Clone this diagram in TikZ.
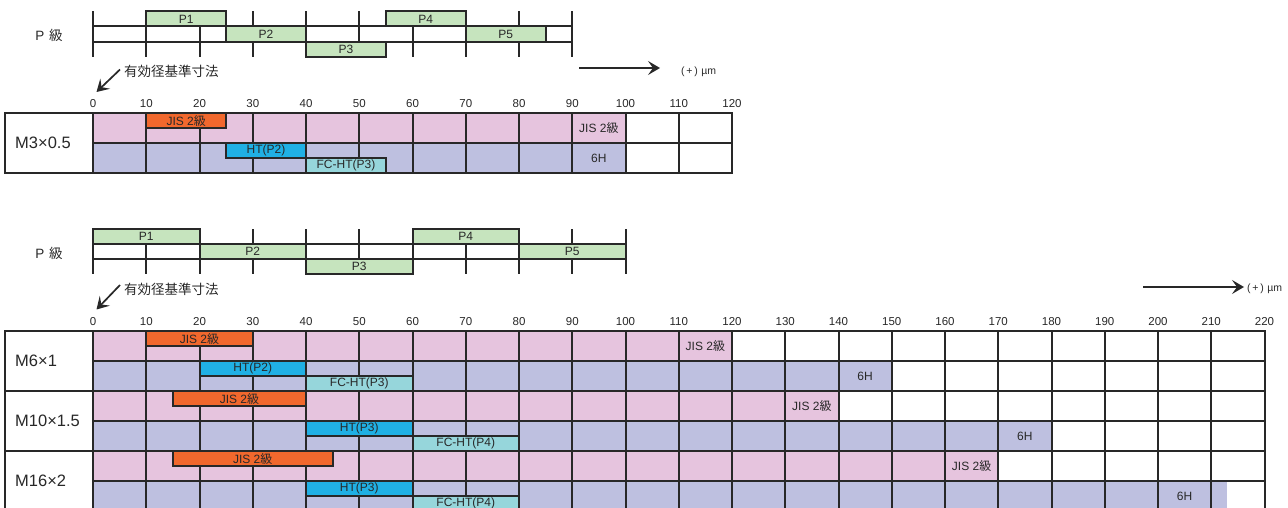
\documentclass[tikz,border=0pt]{standalone}
\usepackage{fontspec}
\setmainfont{Liberation Sans}
\newfontfamily\jp{Noto Sans CJK JP}
\usetikzlibrary{arrows.meta}
\definecolor{pinkc}{RGB}{230,196,222}
\definecolor{bluec}{RGB}{190,192,224}
\definecolor{orangec}{RGB}{241,104,45}
\definecolor{cyanc}{RGB}{32,176,228}
\definecolor{fcc}{RGB}{150,214,219}
\definecolor{greenc}{RGB}{198,228,190}
\definecolor{linec}{RGB}{40,40,40}
\newcommand\bx[7]{% style, x0, x1, y0, y1, name, text
  \draw[#1] (#2,#4) rectangle (#3,#5);
  \node[lbl] (#6) at ({(#2+#3)/2},{(#4+#5)/2}) {#7};
}
\begin{document}
\begin{tikzpicture}[x=1pt,y=-1pt,
  grid/.style={draw=linec, line width=2pt},
  lbl/.style={inner sep=0pt, text=linec, font=\fontsize{12}{14}\selectfont},
  num/.style={inner sep=0pt, text=linec, font=\fontsize{11.5}{13}\selectfont},
  rowlbl/.style={inner sep=0pt, anchor=west, text=linec, font=\fontsize{16.5}{19}\selectfont},
  plbl/.style={inner sep=0pt, text=linec, font=\fontsize{13.5}{15}\selectfont},
  unit/.style={inner sep=0pt, anchor=west, text=linec, font=\fontsize{10.5}{12}\selectfont},
  arr/.style={draw=linec, line width=1.7pt, -{Stealth[length=12pt,width=14pt,inset=5pt]}},
  pgreen/.style={grid, fill=greenc},
  porange/.style={grid, fill=orangec},
  pcyan/.style={grid, fill=cyanc},
  pfc/.style={grid, fill=fcc}]
\useasboundingbox (0,0) rectangle (1288,508);
\clip (0,0) rectangle (1288,508);

% ---------------- top part ----------------
\node[plbl] (plab1) at (49,35) {P\,\,{\jp 級}};
\begin{scope}[xshift=93pt, xscale=5.325]
  \foreach \v in {0,10,...,90} \draw[grid] (\v,11.3) -- (\v,56.9);
  \draw[grid] (0,26.5) -- (90,26.5) (0,41.7) -- (90,41.7);
  \bx{pgreen}{10}{25}{11.3}{26.5}{tp1}{P1}
  \bx{pgreen}{25}{40}{26.5}{41.7}{tp2}{P2}
  \bx{pgreen}{40}{55}{41.7}{56.9}{tp3}{P3}
  \bx{pgreen}{55}{70}{11.3}{26.5}{tp4}{P4}
  \bx{pgreen}{70}{85}{26.5}{41.7}{tp5}{P5}
\end{scope}

\node[plbl, anchor=west] (ref1) at (124,71) {\jp 有効径基準寸法};
\coordinate (ref1a) at (120,69.5);
\coordinate (ref1b) at (96.5,92);
\draw[arr] (ref1a) -- (ref1b);

\coordinate (ar1a) at (579,68);
\coordinate (ar1b) at (660,68);
\draw[arr] (ar1a) -- (ar1b);
\node[unit] (u1) at (681,72) {(\,+\,)\,\,µm};

\begin{scope}[xshift=93pt, xscale=5.325]
  \foreach \v in {0,10,...,120} \node[num] (ta\v) at (\v,104) {\v};
  \fill[pinkc] (0,113) rectangle (100,143);
  \fill[bluec] (0,143) rectangle (100,173);
  \foreach \v in {0,10,...,120} \draw[grid] (\v,113) -- (\v,173);
  \draw[grid] (0,143) -- (120,143);
  \bx{porange}{10}{25}{113}{128}{tj}{JIS 2{\jp 級}}
  \bx{pcyan}{25}{40}{143}{158}{tht}{HT(P2)}
  \bx{pfc}{40}{55}{158}{173}{tfc}{FC-HT(P3)}
  \node[lbl] (tjl) at (95,128) {JIS 2{\jp 級}};
  \node[lbl] (t6h) at (95,158) {6H};
\end{scope}
\draw[grid] (5,113) rectangle (732,173);
\node[rowlbl] (m3) at (15,143) {M3×0.5};

% ---------------- bottom part ----------------
\node[plbl] (plab2) at (49,253) {P\,\,{\jp 級}};
\begin{scope}[xshift=93pt, xscale=5.325]
  \foreach \v in {0,10,...,100} \draw[grid] (\v,229.3) -- (\v,274.3);
  \draw[grid] (0,244.3) -- (100,244.3) (0,259.3) -- (100,259.3);
  \bx{pgreen}{0}{20}{229.3}{244.3}{bp1}{P1}
  \bx{pgreen}{20}{40}{244.3}{259.3}{bp2}{P2}
  \bx{pgreen}{40}{60}{259.3}{274.3}{bp3}{P3}
  \bx{pgreen}{60}{80}{229.3}{244.3}{bp4}{P4}
  \bx{pgreen}{80}{100}{244.3}{259.3}{bp5}{P5}
\end{scope}

\node[plbl, anchor=west] (ref2) at (124,289) {\jp 有効径基準寸法};
\coordinate (ref2a) at (120,285);
\coordinate (ref2b) at (96.5,309.5);
\draw[arr] (ref2a) -- (ref2b);

\coordinate (ar2a) at (1143,287);
\coordinate (ar2b) at (1244,287);
\draw[arr] (ar2a) -- (ar2b);
\node[unit] (u2) at (1247,289) {(\,+\,)\,\,µm};

\begin{scope}[xshift=93pt, xscale=5.325]
  \foreach \v in {0,10,...,220} \node[num] (ba\v) at (\v,322) {\v};
  % fills
  \fill[pinkc] (0,331) rectangle (120,361);
  \fill[bluec] (0,361) rectangle (150,391);
  \fill[pinkc] (0,391) rectangle (140,421);
  \fill[bluec] (0,421) rectangle (180,451);
  \fill[pinkc] (0,451) rectangle (170,481);
  \fill[bluec] (0,481) rectangle (213,511);
  \foreach \v in {0,10,...,220} \draw[grid] (\v,331) -- (\v,511);
  \foreach \y in {361,421,481} \draw[grid] (0,\y) -- (220,\y);
  % M6x1
  \bx{porange}{10}{30}{331}{346}{bj1}{JIS 2{\jp 級}}
  \bx{pcyan}{20}{40}{361}{376}{bht1}{HT(P2)}
  \bx{pfc}{40}{60}{376}{391}{bfc1}{FC-HT(P3)}
  \node[lbl] (bjl1) at (115,346) {JIS 2{\jp 級}};
  \node[lbl] (b6h1) at (145,376) {6H};
  % M10x1.5
  \bx{porange}{15}{40}{391}{406}{bj2}{JIS 2{\jp 級}}
  \bx{pcyan}{40}{60}{421}{436}{bht2}{HT(P3)}
  \bx{pfc}{60}{80}{436}{451}{bfc2}{FC-HT(P4)}
  \node[lbl] (bjl2) at (135,406) {JIS 2{\jp 級}};
  \node[lbl] (b6h2) at (175,436) {6H};
  % M16x2
  \bx{porange}{15}{45}{451}{466}{bj3}{JIS 2{\jp 級}}
  \bx{pcyan}{40}{60}{481}{496}{bht3}{HT(P3)}
  \bx{pfc}{60}{80}{496}{511}{bfc3}{FC-HT(P4)}
  \node[lbl] (bjl3) at (165,466) {JIS 2{\jp 級}};
  \node[lbl] (b6h3) at (205,496) {6H};
\end{scope}
\draw[grid] (5,331) rectangle (1264.5,511);
\draw[grid] (5,391) -- (1264.5,391) (5,451) -- (1264.5,451);
\node[rowlbl] (m6) at (15,361) {M6×1};
\node[rowlbl] (m10) at (15,421) {M10×1.5};
\node[rowlbl] (m16) at (15,481) {M16×2};
\end{tikzpicture}
\end{document}
